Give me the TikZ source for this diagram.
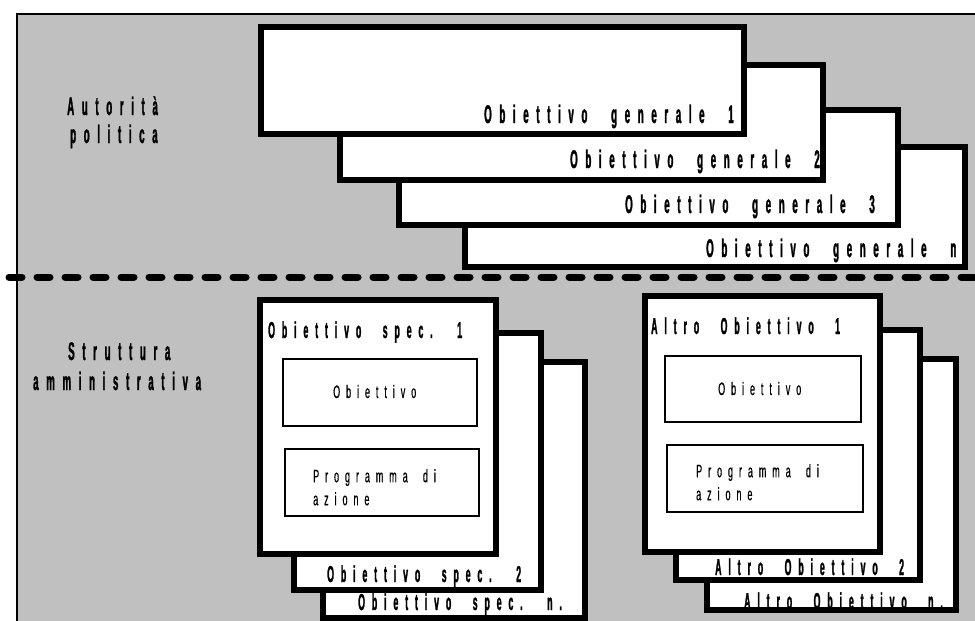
\documentclass[tikz,border=0pt]{standalone}
\usepackage{fontspec}
\newfontfamily\lblfont{Liberation Sans}[FakeStretch=0.38,LetterSpace=30,WordSpace=2.3,FakeBold=1.2]
\newfontfamily\smlfont{Liberation Sans}[FakeStretch=0.5,LetterSpace=33,WordSpace=1.8,FakeBold=0.5]
\definecolor{bg}{HTML}{C0C0C0}
\begin{document}
\begin{tikzpicture}[x=1pt,y=-1pt,
  bigbox/.style={draw=black, fill=white, line width=6pt, inner sep=0pt, outer sep=0pt, anchor=north west},
  smallbox/.style={draw=black, fill=white, line width=1.5pt, inner sep=0pt, outer sep=0pt, anchor=north west},
  lbl/.style={font=\lblfont\bfseries\fontsize{25.5}{30}\selectfont, inner sep=0pt, anchor=base west},
  lblb/.style={font=\lblfont\bfseries\fontsize{23}{28}\selectfont, inner sep=0pt, anchor=base west},
  sml/.style={font=\smlfont\fontsize{18}{23}\selectfont, inner sep=0pt, anchor=base west, align=left},
  sepline/.style={line width=7pt, dash pattern=on 13pt off 15pt, line cap=round}]
\useasboundingbox (0,0) rectangle (975,621);
\clip (0,0) rectangle (975,621);
% background
\fill[bg] (17,14) rectangle (990,640);
\draw[line width=2pt] (17,640) -- (17,14) -- (990,14);
% separator
\coordinate (sepL) at (9,277);
\coordinate (sepR) at (990,277);
\draw[sepline] (sepL) -- (sepR);
% general objectives (back to front)
\node[bigbox, minimum width=500pt, minimum height=120pt] (gn) at (465,147) {};
\node[bigbox, minimum width=499pt, minimum height=115pt] (g3) at (399,110) {};
\node[bigbox, minimum width=483pt, minimum height=115pt] (g2) at (340,65) {};
\node[bigbox, minimum width=483pt, minimum height=107pt] (g1) at (261,27) {};
\node[lbl] (tg1) at (484,123) {Obiettivo generale 1};
\node[lbl] (tg2) at (570,168) {Obiettivo generale 2};
\node[lbl] (tg3) at (625,213) {Obiettivo generale 3};
\node[lbl] (tgn) at (706,257) {Obiettivo generale n};
% left labels
\node[lbl] (aut) at (67,115) {Autorità};
\node[lbl] (pol) at (70,143) {politica};
\node[lbl] (str) at (68,360) {Struttura};
\node[lbl] (amm) at (33,390) {amministrativa};
% specific objectives stack
\node[bigbox, minimum width=262pt, minimum height=256pt] (sn) at (323,362) {};
\node[bigbox, minimum width=247pt, minimum height=257pt] (s2) at (294,333) {};
\node[bigbox, minimum width=236pt, minimum height=254pt] (s1) at (260,300) {};
\node[lblb] (ts1) at (268,338) {Obiettivo spec. 1};
\node[lblb] (ts2) at (327,582) {Obiettivo spec. 2};
\node[lblb] (tsn) at (358,610) {Obiettivo spec. n.};
\node[smallbox, minimum width=194pt, minimum height=67pt] (sobj) at (283,359) {};
\node[smallbox, minimum width=194pt, minimum height=67pt] (sprog) at (285,449) {};
\node[sml] (tsobj) at (333,398) {Obiettivo};
\node[sml, anchor=north west] (tsprog) at (313,469) {Programma di\\azione};
% other objectives stack
\node[bigbox, minimum width=249pt, minimum height=251pt] (an) at (707,359) {};
\node[bigbox, minimum width=244pt, minimum height=250pt] (a2) at (676,330) {};
\node[bigbox, minimum width=235pt, minimum height=256pt] (a1) at (645,296) {};
\node[lblb] (ta1) at (651,334) {Altro Obiettivo 1};
\node[lblb] (ta2) at (715,575) {Altro Obiettivo 2};
\node[lblb] (tan) at (744,609) {Altro Obiettivo n.};
\node[smallbox, minimum width=196pt, minimum height=66pt] (aobj) at (665,356) {};
\node[smallbox, minimum width=196pt, minimum height=67pt] (aprog) at (667,445) {};
\node[sml] (taobj) at (718,395) {Obiettivo};
\node[sml, anchor=north west] (taprog) at (696,464) {Programma di\\azione};
\end{tikzpicture}
\end{document}
